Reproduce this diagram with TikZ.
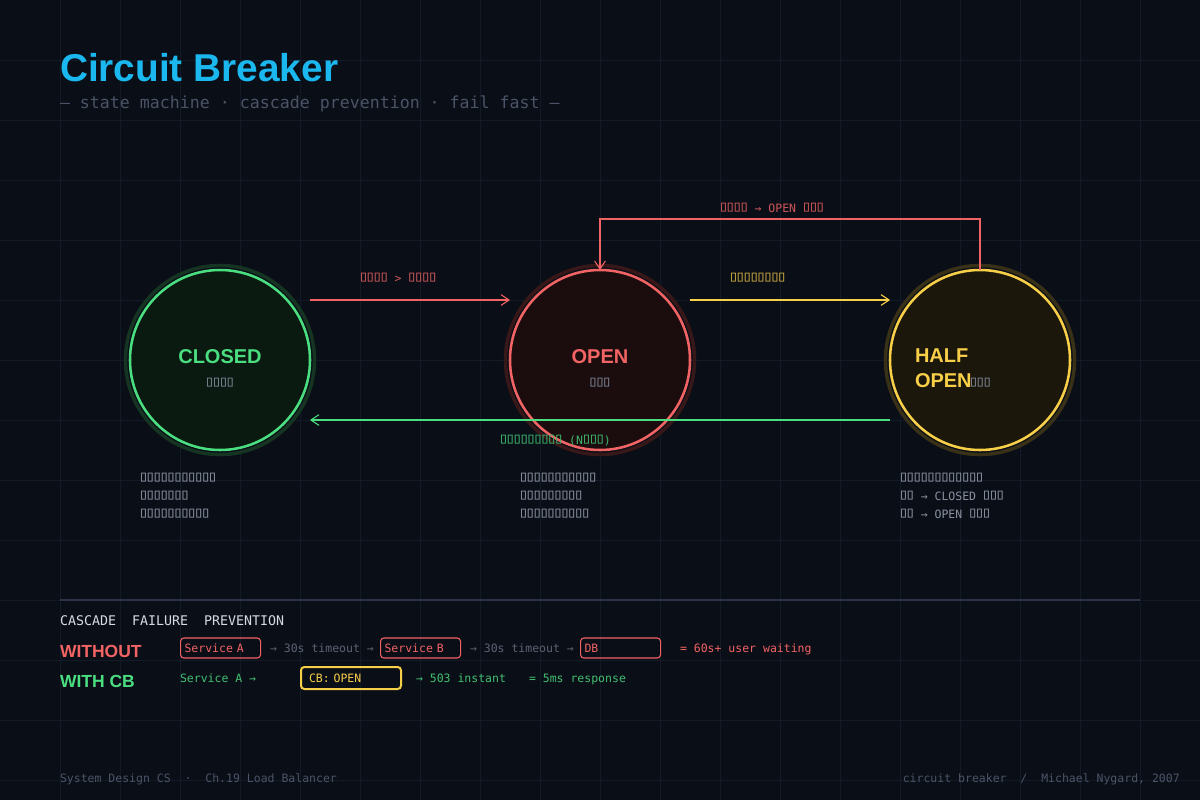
\documentclass[tikz,border=0pt]{standalone}
\usepackage{fontspec}
\usepackage{graphicx}
\setmainfont{Liberation Sans}
\newfontfamily\monof{DejaVu Sans Mono}
\usetikzlibrary{arrows.meta,calc}
\newcommand\px[1]{\fontsize{\fpeval{#1*0.75}pt}{\fpeval{#1*0.9}pt}\selectfont}
\newcommand\tofu{\makebox[0.602em]{\raisebox{0.02em}{\scalebox{1.5}[1.3]{▯}}}}
\ExplSyntaxOn
\NewDocumentCommand\tfs{m}{\prg_replicate:nn{#1}{\tofu}}
\ExplSyntaxOff
\definecolor{bg}{HTML}{0A0E17}
\definecolor{gridc}{HTML}{131A27}
\definecolor{cgreen}{HTML}{4ADE80}
\definecolor{cred}{HTML}{F26464}
\definecolor{cyel}{HTML}{F8CF48}
\definecolor{ctitle}{HTML}{1BB8F0}
\definecolor{subc}{HTML}{4B5466}
\definecolor{descc}{HTML}{8A92A0}
\definecolor{innerc}{HTML}{7B8494}
\definecolor{dimc}{HTML}{5B6373}
\definecolor{headc}{HTML}{D6DAE2}
\definecolor{sepc}{HTML}{2C3447}
\definecolor{gfill}{HTML}{0A1A10}
\definecolor{rfill}{HTML}{1B0C0E}
\definecolor{yfill}{HTML}{1C170B}
\definecolor{gring}{HTML}{153422}
\definecolor{rring}{HTML}{381719}
\definecolor{yring}{HTML}{383117}
\begin{document}
\begin{tikzpicture}[x=0.75pt,y=-0.75pt,
  txt/.style={inner sep=0,outer sep=0,anchor=base west},
  mono/.style={font=\monof\px{11.5}},
  state/.style={circle,outer sep=0,inner sep=0,minimum size=135pt,line width=1.9pt},
  conn/.style={line width=1.5pt,-{Straight Barb[length=6pt,width=8pt,line width=0.8pt]}},
  svc/.style={draw=cred,line width=0.8pt,rounded corners=2.5pt,anchor=west,inner xsep=3pt,inner ysep=0pt,minimum height=15pt,text width=54pt,align=left,font=\monof\px{11.5},text=cred},
]
\useasboundingbox (0,0) rectangle (1200,800);
\fill[bg] (0,0) rectangle (1200,800);
\foreach \g in {60,120,...,1140} {
  \draw[gridc,line width=0.75pt] (\g,0) -- (\g,800);
}
\foreach \g in {60,120,...,780} {
  \draw[gridc,line width=0.75pt] (0,\g) -- (1200,\g);
}
% title
\node[txt,text=ctitle,font=\bfseries\px{38.8}] (title) at (60,81) {Circuit Breaker};
\node[txt,text=subc,font=\monof\px{16.6}] (sub) at (60,108) {— state machine · cascade prevention · fail fast —};
% state circles
\draw[gring,line width=2.6pt] (220,360) circle[radius=70.9pt];
\draw[rring,line width=2.6pt] (600,360) circle[radius=70.9pt];
\draw[yring,line width=2.6pt] (980,360) circle[radius=70.9pt];
\node[state,draw=cgreen,fill=gfill] (closed) at (220,360) {};
\node[state,draw=cred,fill=rfill] (open) at (600,360) {};
\node[state,draw=cyel,fill=yfill] (half) at (980,360) {};
\node[inner sep=0,anchor=base,text=cgreen,font=\bfseries\px{20}] (closedt) at (220,363) {CLOSED};
\node[inner sep=0,anchor=base,mono,text=innerc] (closeds) at (220,387) {\tfs{4}};
\node[inner sep=0,anchor=base,text=cred,font=\bfseries\px{20}] (opent) at (600,363) {OPEN};
\node[inner sep=0,anchor=base,mono,text=innerc] (opens) at (600,387) {\tfs{3}};
\node[txt,text=cyel,font=\bfseries\px{20}] (halft1) at (915,362) {HALF};
\node[txt,text=cyel,font=\bfseries\px{20}] (halft2) at (915,387) {OPEN};
\node[txt,mono,text=innerc] (halfs) at (970,387) {\tfs{3}};
% connectors
\coordinate (topy) at (0,219);
\draw[conn,cred] ($(closed.east)+(0,-60)$) -- ($(open.west)+(0,-60)$);
\draw[conn,cyel] ($(open.east)+(0,-60)$) -- ($(half.west)+(0,-60)$);
\draw[conn,cred] (half.north) -- (half.north |- topy) -| (open.north);
\draw[conn,cgreen] ($(half.west)+(0,60)$) -- ($(closed.east)+(0,60)$);
\node[txt,mono,text=cred!85!bg] (l1) at (360,282) {\tfs{4} > \tfs{4}};
\node[txt,mono,text=cyel!80!bg] (l2) at (730,282) {\tfs{8}};
\node[txt,mono,text=cred!85!bg] (l3) at (720,212) {\tfs{4} → OPEN \tfs{3}};
\node[txt,mono,text=cgreen!80!bg] (l4) at (500,444) {\tfs{9} (N\tfs{3})};
% descriptions
\node[txt,mono,text=descc] (d11) at (140,482) {\tfs{11}};
\node[txt,mono,text=descc] (d12) at (140,500) {\tfs{7}};
\node[txt,mono,text=descc] (d13) at (140,518) {\tfs{10}};
\node[txt,mono,text=descc] (d21) at (520,482) {\tfs{11}};
\node[txt,mono,text=descc] (d22) at (520,500) {\tfs{9}};
\node[txt,mono,text=descc] (d23) at (520,518) {\tfs{10}};
\node[txt,mono,text=descc] (d31) at (900,482) {\tfs{12}};
\node[txt,mono,text=descc] (d32) at (900,500) {\tfs{2} → CLOSED \tfs{3}};
\node[txt,mono,text=descc] (d33) at (900,518) {\tfs{2} → OPEN \tfs{3}};
% cascade section
\draw[sepc,line width=0.9pt] (60,600) -- (1140,600);
\node[txt,text=headc,font=\monof\px{13.3}] (head) at (60,625) {CASCADE~~FAILURE~~PREVENTION};
\node[txt,text=cred,font=\bfseries\px{17.5}] (wo) at (60,657) {WITHOUT};
\node[txt,text=cgreen,font=\bfseries\px{17.5}] (wc) at (60,687) {WITH CB};
\node[svc] (sa) at (180,648) {Service A};
\node[txt,mono,text=dimc] (t1) at (270,652) {→ 30s timeout →};
\node[svc] (sb) at (380,648) {Service B};
\node[txt,mono,text=dimc] (t2) at (470,652) {→ 30s timeout →};
\node[svc] (db) at (580,648) {DB};
\node[txt,mono,text=cred] (wait) at (680,652) {= 60s+ user waiting};
\node[txt,mono,text=cgreen!85!bg] (sa2) at (180,682) {Service A →};
\node[draw=cyel,line width=1.5pt,rounded corners=2.5pt,anchor=west,inner xsep=6pt,inner ysep=0pt,minimum height=16.5pt,text width=63pt,align=left,font=\monof\px{11.5},text=cyel] (cb) at (300,678) {CB: OPEN};
\node[txt,mono,text=cgreen!85!bg] (inst) at (416,682) {→ 503 instant};
\node[txt,mono,text=cgreen!85!bg] (resp) at (529,682) {= 5ms response};
% footer
\node[txt,mono,text=subc] (f1) at (60,782) {System Design CS~~·~~Ch.19 Load Balancer};
\node[inner sep=0,anchor=base east,mono,text=subc] (f2) at (1180,782) {circuit breaker~~/~~Michael Nygard, 2007};
\end{tikzpicture}
\end{document}
